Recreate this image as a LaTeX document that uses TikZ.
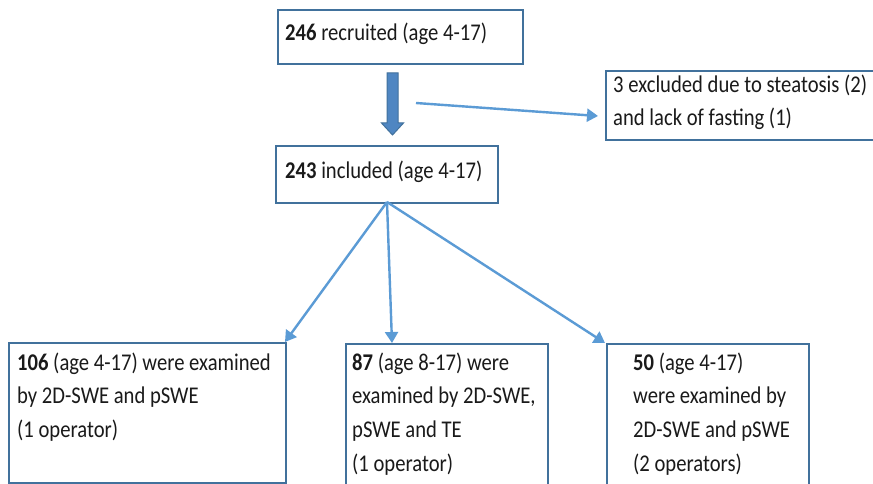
\documentclass[tikz,border=0pt]{standalone}
\usepackage{fontspec}
\setmainfont[FakeStretch=0.86]{Carlito}
\usetikzlibrary{arrows.meta,calc}
\definecolor{boxcol}{HTML}{41719C}
\definecolor{arrcol}{HTML}{5B9BD5}
\definecolor{bigfill}{HTML}{4F86C2}
\definecolor{txtcol}{HTML}{1A1A1A}
\newcommand{\firstln}{\rule{0pt}{20pt}}
\tikzset{
  box/.style={draw=boxcol, line width=2.4pt, anchor=north west, inner sep=0pt, fill=white},
  txt/.style={anchor=north west, inner sep=0pt, align=left, text=txtcol,
    font=\fontsize{24}{33.7}\selectfont},
  thin/.style={draw=arrcol, line width=2.4pt, -{Triangle[width=13pt,length=11pt]}},
}
\begin{document}
\begin{tikzpicture}[x=1pt,y=-1pt]
\clip (0,0) rectangle (873,484);
\fill[white] (0,0) rectangle (873,484);
% boxes
\node[box, minimum width=245, minimum height=54] (b1) at (277,9) {};
\node[box, minimum width=280, minimum height=69] (ex) at (605,70) {};
\node[box, minimum width=222, minimum height=57] (b2) at (275,145) {};
\node[box, minimum width=277, minimum height=140] (ba) at (8,342) {};
\node[box, minimum width=202, minimum height=160] (bb) at (345,343) {};
\node[box, minimum width=202, minimum height=160] (bc) at (606,343) {};
% texts
\node[txt] (t1) at (285,20) {\firstln\textbf{246} recruited (age 4-17)};
\node[txt, font=\fontsize{24}{33}\selectfont] (tex) at (613,72) {\firstln 3 excluded due to steatosis (2)\\and lack of fasting (1)};
\node[txt] (t2) at (285,158) {\firstln\textbf{243} included (age 4-17)};
\node[txt] (ta) at (17,350) {\firstln\textbf{106} (age 4-17) were examined\\by 2D-SWE and pSWE\\(1 operator)};
\node[txt] (tb) at (352,350) {\firstln\textbf{87} (age 8-17) were\\examined by 2D-SWE,\\pSWE and TE\\(1 operator)};
\node[txt] (tc) at (633,350) {\firstln\textbf{50} (age 4-17)\\were examined by\\2D-SWE and pSWE\\(2 operators)};
% big arrow
\filldraw[fill=bigfill, draw=boxcol, line width=1pt]
  (387,73) -- (398,73) -- (398,123) -- (403.5,123) -- (392.5,135) -- (381.5,123) -- (387,123) -- cycle;
% thin arrows
\coordinate (sideStart) at (416,103);
\coordinate (sideEnd) at (598,116);
\draw[thin] (sideStart) -- (sideEnd);
\coordinate (fork) at (387,202);
\coordinate (endA) at (285,342);
\coordinate (endB) at (392,343);
\coordinate (endC) at (605,343);
\draw[thin] (fork) -- (endA);
\draw[thin] (fork) -- (endB);
\draw[thin] (fork) -- (endC);
\end{tikzpicture}
\end{document}
